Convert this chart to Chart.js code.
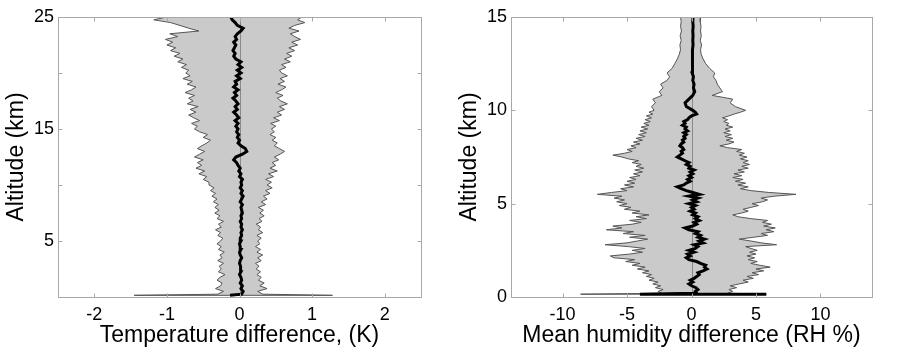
<!DOCTYPE html>
<html>
<head>
<meta charset="utf-8">
<script src="https://cdn.jsdelivr.net/npm/chart.js@4/dist/chart.umd.min.js"></script>
<style>
  body { margin: 0; background: #fff; }
  .panel { position: absolute; top: 0; width: 453px; height: 352px; }
</style>
</head>
<body>
<div class="panel" style="left:0"><canvas id="left" width="453" height="352"></canvas></div>
<div class="panel" style="left:453px"><canvas id="right" width="453" height="352"></canvas></div>
<script>
// ---- left panel: temperature difference (K) vs altitude (km)
const leftAlt = [0.15,
  0.25,0.5,0.75,1,1.25,1.5,1.75,2,2.25,2.5,
  2.75,3,3.25,3.5,3.75,4,4.25,4.5,4.75,5,
  5.25,5.5,5.75,6,6.25,6.5,6.75,7,7.25,7.5,
  7.75,8,8.25,8.5,8.75,9,9.25,9.5,9.75,10,
  10.25,10.5,10.75,11,11.25,11.5,11.75,12,12.25,12.5,
  12.75,13,13.25,13.5,13.75,14,14.25,14.5,14.75,15,
  15.25,15.5,15.75,16,16.25,16.5,16.75,17,17.25,17.5,
  17.75,18,18.25,18.5,18.75,19,19.25,19.5,19.75,20,
  20.25,20.5,20.75,21,21.25,21.5,21.75,22,22.25,22.5,
  22.75,23,23.25,23.5,23.75,24,24.25,24.5,24.75,25];
const leftLower = [-1.45,
  -0.30,-0.22,-0.33,-0.26,-0.24,-0.31,-0.27,-0.20,-0.29,-0.25,
  -0.28,-0.22,-0.30,-0.24,-0.27,-0.21,-0.29,-0.25,-0.31,-0.26,
  -0.23,-0.30,-0.26,-0.33,-0.25,-0.29,-0.22,-0.31,-0.27,-0.34,
  -0.28,-0.34,-0.29,-0.36,-0.31,-0.38,-0.33,-0.40,-0.35,-0.42,
  -0.42,-0.50,-0.45,-0.56,-0.48,-0.60,-0.52,-0.58,-0.50,-0.62,
  -0.55,-0.48,-0.58,-0.52,-0.45,-0.40,-0.50,-0.44,-0.55,-0.62,
  -0.58,-0.66,-0.55,-0.63,-0.70,-0.60,-0.68,-0.57,-0.72,-0.64,
  -0.70,-0.62,-0.75,-0.66,-0.60,-0.72,-0.65,-0.78,-0.68,-0.74,
  -0.70,-0.80,-0.73,-0.85,-0.78,-0.90,-0.82,-0.95,-0.88,-1.00,
  -0.92,-1.02,-0.85,-0.96,-0.56,-0.70,-0.82,-0.95,-1.18,-1.00];
const leftUpper = [1.28,
  0.32,0.25,0.38,0.28,0.34,0.26,0.30,0.24,0.29,0.23,
  0.27,0.22,0.30,0.25,0.32,0.24,0.29,0.22,0.28,0.25,
  0.30,0.24,0.32,0.26,0.29,0.23,0.31,0.27,0.34,0.28,
  0.33,0.26,0.36,0.30,0.38,0.33,0.42,0.36,0.45,0.38,
  0.44,0.36,0.47,0.40,0.52,0.42,0.50,0.45,0.54,0.48,
  0.56,0.62,0.55,0.48,0.52,0.45,0.50,0.42,0.48,0.44,
  0.50,0.43,0.55,0.47,0.58,0.52,0.62,0.55,0.66,0.57,
  0.52,0.60,0.50,0.58,0.64,0.53,0.62,0.56,0.66,0.58,
  0.55,0.64,0.58,0.70,0.62,0.72,0.65,0.76,0.68,0.80,
  0.72,0.84,0.76,0.70,0.82,0.68,0.76,0.90,0.80,0.86];
const leftMean = [-0.13,
  0.03,0.05,0.02,0.04,0.01,0.03,0.02,0.00,0.02,0.01,
  0.02,0.00,0.01,0.03,0.01,0.00,0.02,0.01,0.00,0.02,
  0.01,0.03,0.02,0.04,0.02,0.03,0.01,0.03,0.02,0.04,
  0.03,0.02,0.04,0.01,0.03,0.05,0.02,0.04,0.01,0.03,
  0.02,0.04,0.00,0.02,-0.01,0.01,-0.02,-0.04,-0.08,-0.05,
  0.04,0.10,0.08,0.02,-0.02,0.00,-0.03,-0.01,-0.04,-0.02,
  -0.05,-0.02,-0.06,-0.01,-0.04,-0.08,-0.03,-0.06,-0.02,-0.05,
  -0.09,-0.04,-0.07,-0.02,-0.08,-0.04,-0.06,0.01,-0.04,0.02,
  -0.03,0.03,-0.02,0.02,-0.05,-0.08,-0.06,-0.09,-0.07,-0.05,
  -0.08,-0.04,-0.06,-0.03,0.02,0.05,-0.03,-0.06,-0.10,-0.12];
const leftXTicks = [-2, -1, 0, 1, 2];
const leftYTicks = [0, 5, 10, 15, 20, 25];
const leftYLabels = [5, 15, 25];

// ---- right panel: mean humidity difference (RH %) vs altitude (km)
const rightAlt = [0.15, 0.15,
  0.2,0.3,0.4,0.5,0.6,0.7,0.8,0.9,1.0,1.1,
  1.2,1.3,1.4,1.5,1.6,1.7,1.8,1.9,2.0,2.1,
  2.2,2.3,2.4,2.5,2.6,2.7,2.8,2.9,3.0,3.1,
  3.2,3.3,3.4,3.5,3.6,3.7,3.8,3.9,4.0,4.1,
  4.2,4.3,4.4,4.5,4.6,4.7,4.8,4.9,5.0,5.1,
  5.2,5.3,5.4,5.5,5.6,5.7,5.8,5.9,6.0,6.1,
  6.2,6.3,6.4,6.5,6.6,6.7,6.8,6.9,7.0,7.1,
  7.2,7.3,7.4,7.5,7.6,7.7,7.8,7.9,8.0,8.1,
  8.2,8.3,8.4,8.5,8.6,8.7,8.8,8.9,9.0,9.1,
  9.2,9.3,9.4,9.5,9.6,9.7,9.8,9.9,10.0,
  10.2,10.4,10.6,10.8,11.0,11.2,11.4,11.6,11.8,12.0,
  12.25,12.5,12.75,13,13.25,13.5,13.75,14,14.25,14.5,14.75,15];
const rightLower = [-8.6, -8.6,
  -2.3,-2.6,-2.2,-2.8,-2.4,-3.0,-2.6,-3.3,-2.9,-3.5,
  -3.1,-3.8,-3.3,-4.2,-3.6,-4.6,-4.0,-5.1,-4.4,-6.0,
  -6.3,-4.8,-3.8,-4.6,-3.6,-4.9,-6.7,-5.0,-4.2,-3.4,
  -4.8,-3.6,-5.3,-4.5,-6.6,-5.4,-6.1,-4.6,-3.9,-4.8,
  -3.5,-4.3,-3.3,-4.6,-4.0,-5.2,-4.7,-5.6,-5.0,-5.8,
  -5.2,-6.0,-5.4,-7.3,-6.2,-5.0,-5.5,-4.5,-5.2,-4.4,
  -5.0,-4.3,-4.8,-4.0,-4.5,-3.8,-4.4,-3.7,-4.3,-3.9,
  -4.6,-4.1,-4.9,-5.4,-6.1,-5.2,-4.6,-5.0,-4.3,-4.7,
  -4.0,-4.5,-3.8,-4.3,-3.6,-4.1,-3.5,-4.0,-3.4,-3.9,
  -3.3,-3.7,-3.2,-3.6,-3.1,-3.5,-3.0,-3.3,-2.9,
  -3.1,-2.8,-3.0,-2.3,-2.5,-2.2,-2.4,-1.9,-1.7,-1.9,
  -1.5,-1.3,-1.1,-0.95,-0.85,-0.9,-0.8,-0.88,-0.78,-0.85,-0.8,-0.85];
const rightUpper = [5.8, 5.8,
  2.8,3.2,2.9,3.5,3.0,3.7,4.4,4.0,4.8,4.3,
  5.2,4.7,5.6,5.0,6.1,5.3,4.6,5.1,4.4,4.9,
  4.3,5.0,4.5,5.1,4.6,4.2,6.6,5.4,4.6,3.7,
  4.8,5.9,5.4,6.4,5.8,6.5,5.6,6.2,5.5,5.9,
  4.6,3.6,3.2,3.9,4.4,4.0,4.6,5.2,4.7,5.5,
  5.9,5.4,6.4,8.1,6.0,4.6,3.8,4.4,3.6,4.2,
  3.4,4.0,3.2,3.9,3.3,4.1,3.6,4.4,3.9,4.5,
  4.0,4.4,3.8,4.3,3.7,4.1,3.5,3.9,2.8,2.2,
  2.9,3.3,2.7,3.2,2.6,3.1,2.5,3.0,2.6,3.2,
  2.7,2.9,2.5,2.8,2.4,2.9,3.3,3.8,4.2,
  3.4,3.0,3.2,1.6,2.4,2.2,2.0,1.9,1.7,1.8,
  1.4,1.1,0.9,0.75,0.7,0.78,0.68,0.76,0.7,0.74,0.68,0.72];
const rightMean = [5.8, -4.0,
  0.4,0.3,0.5,0.35,0.0,-0.2,0.1,-0.1,0.2,0.4,
  0.6,0.5,0.9,1.2,1.0,1.1,0.7,0.4,-0.2,-0.4,
  -0.1,-0.3,0.2,-0.2,0.3,0.5,0.2,0.9,0.6,1.0,
  0.5,0.7,0.3,0.5,-0.2,-0.5,0.1,0.4,0.2,0.6,
  0.3,0.5,0.1,0.3,-0.1,0.2,0.0,0.3,-0.2,0.4,
  0.1,0.5,-0.2,0.6,0.1,-0.4,-0.8,-1.1,-0.6,-0.4,
  -0.1,-0.3,0.0,-0.2,0.1,-0.1,0.2,-0.2,-0.1,-0.4,
  -0.2,-0.5,-0.8,-1.1,-0.9,-0.7,-0.8,-0.6,-0.7,-0.9,
  -0.8,-0.6,-0.7,-0.5,-0.6,-0.4,-0.6,-0.3,-0.5,-0.4,
  -0.7,-0.5,-0.6,-0.3,-0.2,0.0,0.4,0.3,0.1,
  -0.4,-0.5,-0.2,0.1,0.25,0.15,0.2,0.1,0.15,0.05,
  0.05,0.1,0.05,0.1,0.08,0.12,0.1,0.12,0.1,0.13,0.1,0.12];
const rightXTicks = [-10, -5, 0, 5, 10];
const rightYTicks = [0, 5, 10, 15];
const rightYLabels = [0, 5, 10, 15];

Chart.defaults.font.family = '"Liberation Sans", Arial, sans-serif';
Chart.defaults.color = '#000';

const boxColor = '#a8a8a8';

// zero line on top of the band, box and inward ticks like the original
const boxPlugin = {
  id: 'box',
  afterDatasetDraw(chart, args) {
    if (args.index !== 1) return;
    const { ctx, chartArea: a, scales: { x } } = chart;
    const p = Math.round(x.getPixelForValue(0)) + 0.5;
    ctx.save();
    ctx.strokeStyle = '#8a8a8a';
    ctx.lineWidth = 1;
    ctx.beginPath();
    ctx.moveTo(p, a.top);
    ctx.lineTo(p, a.bottom);
    ctx.stroke();
    ctx.restore();
  },
  afterDraw(chart) {
    const { ctx, chartArea: a, scales: { x, y } } = chart;
    const l = Math.round(a.left) + 0.5, r = Math.round(a.right) + 0.5;
    const t = Math.round(a.top) + 0.5, b = Math.round(a.bottom) + 0.5;
    ctx.save();
    ctx.strokeStyle = boxColor;
    ctx.lineWidth = 1;
    ctx.strokeRect(l, t, r - l, b - t);
    ctx.beginPath();
    x.ticks.forEach(tk => {
      const p = Math.round(x.getPixelForValue(tk.value)) + 0.5;
      ctx.moveTo(p, b); ctx.lineTo(p, b - 4);
      ctx.moveTo(p, t); ctx.lineTo(p, t + 4);
    });
    y.ticks.forEach(tk => {
      const p = Math.round(y.getPixelForValue(tk.value)) + 0.5;
      ctx.moveTo(l, p); ctx.lineTo(l + 4, p);
      ctx.moveTo(r, p); ctx.lineTo(r - 4, p);
    });
    ctx.stroke();
    ctx.restore();
  }
};

function makeProfile(id, o) {
  const band = o.lower.map((v, i) => ({ x: v, y: o.alt[i] }))
    .concat(o.upper.map((v, i) => ({ x: v, y: o.alt[i] })).reverse());
  band.push(band[0]);
  const mean = o.mean.map((v, i) => ({ x: v, y: o.alt[i] }));

  return new Chart(document.getElementById(id), {
    type: 'scatter',
    data: {
      datasets: [
        { data: mean, showLine: true, borderColor: '#000', borderWidth: 3,
          pointRadius: 0, tension: 0, fill: false },
        { data: band, showLine: true, fill: 'shape', backgroundColor: '#cacaca',
          borderColor: '#555', borderWidth: 1, pointRadius: 0, tension: 0 }
      ]
    },
    options: {
      responsive: false,
      animation: false,
      events: [],
      layout: { padding: { top: 17, right: o.rightPad, left: 0, bottom: 0 } },
      plugins: { legend: { display: false }, tooltip: { enabled: false } },
      scales: {
        x: {
          type: 'linear', min: o.xMin, max: o.xMax,
          afterBuildTicks: s => { s.ticks = o.xTicks.map(v => ({ value: v })); },
          afterFit: s => { s.height = 55; },
          grid: { display: false, drawTicks: false },
          border: { display: false },
          ticks: { font: { size: 18 }, color: '#000', padding: 7, maxRotation: 0, autoSkip: false },
          title: { display: true, text: o.xTitle, font: { size: 23 }, color: '#000',
                   padding: { top: 0, bottom: 3 } }
        },
        y: {
          type: 'linear', min: o.yMin, max: o.yMax,
          afterBuildTicks: s => { s.ticks = o.yTicks.map(v => ({ value: v })); },
          afterFit: s => { s.width = 58; },
          grid: { display: false, drawTicks: false },
          border: { display: false },
          ticks: { font: { size: 18 }, color: '#000', padding: 4, autoSkip: false,
                   callback: v => o.yLabels.includes(v) ? String(v) : '' },
          title: { display: true, text: 'Altitude (km)', font: { size: 23 }, color: '#000',
                   padding: { top: 3, bottom: 0 } }
        }
      }
    },
    plugins: [boxPlugin]
  });
}

makeProfile('left', {
  alt: leftAlt, lower: leftLower, upper: leftUpper, mean: leftMean,
  xMin: -2.5, xMax: 2.5, yMin: 0, yMax: 25,
  xTicks: leftXTicks, yTicks: leftYTicks, yLabels: leftYLabels,
  xTitle: 'Temperature difference, (K)', rightPad: 32
});

makeProfile('right', {
  alt: rightAlt, lower: rightLower, upper: rightUpper, mean: rightMean,
  xMin: -14, xMax: 14, yMin: 0, yMax: 15,
  xTicks: rightXTicks, yTicks: rightYTicks, yLabels: rightYLabels,
  xTitle: 'Mean humidity difference (RH %)', rightPad: 34
});
</script>
</body>
</html>
